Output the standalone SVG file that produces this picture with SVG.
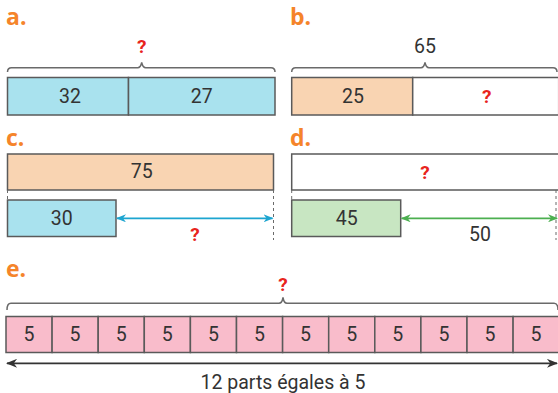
<svg xmlns="http://www.w3.org/2000/svg" width="558" height="393" viewBox="0 0 558 393">
<defs>
<style>
.lbl{font-family:"Open Sans",sans-serif;font-weight:700;font-size:23px;fill:#f5842a}
.num{font-family:Roboto,"Liberation Sans",sans-serif;font-size:19.5px;fill:#333;text-anchor:middle}
.q{font-family:Roboto,"Liberation Sans",sans-serif;font-weight:700;font-size:19px;fill:#e8241c;text-anchor:middle}
.box{stroke:#5a5a5a;stroke-width:1.5}
.brace{fill:none;stroke:#6a6a6a;stroke-width:1.5}
.dash{stroke:#6a6a6a;stroke-width:1;stroke-dasharray:3 3}
</style>
<marker id="ab" viewBox="0 0 10 8" refX="9" refY="4" markerWidth="10" markerHeight="8" markerUnits="userSpaceOnUse" orient="auto-start-reverse"><path d="M0,0 L10,4 L0,8 L3,4 z" fill="#1da5d0"/></marker>
<marker id="ag" viewBox="0 0 10 8" refX="9" refY="4" markerWidth="10" markerHeight="8" markerUnits="userSpaceOnUse" orient="auto-start-reverse"><path d="M0,0 L10,4 L0,8 L3,4 z" fill="#4caf50"/></marker>
<marker id="ak" viewBox="0 0 10 8" refX="9" refY="4" markerWidth="12" markerHeight="9" markerUnits="userSpaceOnUse" orient="auto-start-reverse"><path d="M0,0 L10,4 L0,8 L3,4 z" fill="#333"/></marker>
</defs>

<g id="a">
<text class="lbl" x="6" y="25">a.</text>
<text class="q" x="141.7" y="53">?</text>
<path class="brace" d="M7.5,72 Q7.5,67.7 11.5,67.7 L137.7,67.7 Q140.7,67.7 141.7,62.5 Q142.7,67.7 145.7,67.7 L271,67.7 Q275,67.7 275,72"/>
<rect class="box" x="7.5" y="77.5" width="121" height="37.5" fill="#a9e2ee"/>
<rect class="box" x="128.5" y="77.5" width="146.5" height="37.5" fill="#a9e2ee"/>
<text class="num" x="70" y="102.5">32</text>
<text class="num" x="201.7" y="102.5">27</text>
</g>

<g id="b">
<text class="lbl" x="290" y="25">b.</text>
<text class="num" x="425" y="53">65</text>
<path class="brace" d="M291.7,72 Q291.7,67.7 295.7,67.7 L421,67.7 Q424,67.7 425,62.5 Q426,67.7 429,67.7 L553,67.7 Q557,67.7 557,72"/>
<rect class="box" x="291.7" y="77.5" width="121" height="37.5" fill="#f9d4b2"/>
<rect class="box" x="412.7" y="77.5" width="146" height="37.5" fill="#ffffff"/>
<text class="num" x="353" y="102.5">25</text>
<text class="q" x="486.7" y="102.5">?</text>
</g>

<g id="c">
<text class="lbl" x="6" y="146">c.</text>
<rect class="box" x="7.5" y="154" width="266" height="36" fill="#f9d4b2"/>
<text class="num" x="141.7" y="178">75</text>
<line class="dash" x1="7.5" y1="190" x2="7.5" y2="237"/>
<line class="dash" x1="273.5" y1="190" x2="273.5" y2="240"/>
<rect class="box" x="7.5" y="200" width="108.5" height="36.5" fill="#a9e2ee"/>
<text class="num" x="61.7" y="224.5">30</text>
<text class="q" x="195" y="240.5">?</text>
</g>

<g id="d">
<text class="lbl" x="290" y="146">d.</text>
<rect class="box" x="291.7" y="154" width="268" height="36" fill="#ffffff"/>
<text class="q" x="425" y="178.5">?</text>
<line class="dash" x1="291.7" y1="190" x2="291.7" y2="237"/>
<line class="dash" x1="556" y1="190" x2="556" y2="240"/>
<rect class="box" x="291.7" y="200" width="109" height="36.5" fill="#c8e6c2"/>
<text class="num" x="346.7" y="224.5">45</text>
<text class="num" x="480" y="240.5">50</text>
</g>

<g id="e">
<text class="lbl" x="6" y="277">e.</text>
<text class="q" x="283" y="290.5">?</text>
<path class="brace" d="M7,310 Q7,303.3 11,303.3 L279,303.3 Q282,303.3 283,297.5 Q284,303.3 287,303.3 L554,303.3 Q558,303.3 558,310"/>
<g fill="#f9bccb" class="box">
<rect x="6" y="316.5" width="46.1" height="36"/>
<rect x="52.1" y="316.5" width="46.1" height="36"/>
<rect x="98.2" y="316.5" width="46.1" height="36"/>
<rect x="144.3" y="316.5" width="46.1" height="36"/>
<rect x="190.4" y="316.5" width="46.1" height="36"/>
<rect x="236.5" y="316.5" width="46.1" height="36"/>
<rect x="282.6" y="316.5" width="46.1" height="36"/>
<rect x="328.7" y="316.5" width="46.1" height="36"/>
<rect x="374.8" y="316.5" width="46.1" height="36"/>
<rect x="420.9" y="316.5" width="46.1" height="36"/>
<rect x="467" y="316.5" width="46.1" height="36"/>
<rect x="513.1" y="316.5" width="46.1" height="36"/>
</g>
<g class="num">
<text x="29" y="341">5</text>
<text x="75.1" y="341">5</text>
<text x="121.2" y="341">5</text>
<text x="167.3" y="341">5</text>
<text x="213.4" y="341">5</text>
<text x="259.5" y="341">5</text>
<text x="305.6" y="341">5</text>
<text x="351.7" y="341">5</text>
<text x="397.8" y="341">5</text>
<text x="443.9" y="341">5</text>
<text x="490" y="341">5</text>
<text x="536.1" y="341">5</text>
</g>
<text class="num" x="283" y="388.5">12 parts égales à 5</text>
</g>

<g id="connectors" fill="none">
<line x1="117" y1="218.3" x2="272.5" y2="218.3" stroke="#1da5d0" stroke-width="1.8" marker-start="url(#ab)" marker-end="url(#ab)"/>
<line x1="401.7" y1="218.3" x2="557" y2="218.3" stroke="#4caf50" stroke-width="1.8" marker-start="url(#ag)" marker-end="url(#ag)"/>
<line x1="7" y1="363.3" x2="557" y2="363.3" stroke="#333" stroke-width="1.8" marker-start="url(#ak)" marker-end="url(#ak)"/>
</g>
</svg>
